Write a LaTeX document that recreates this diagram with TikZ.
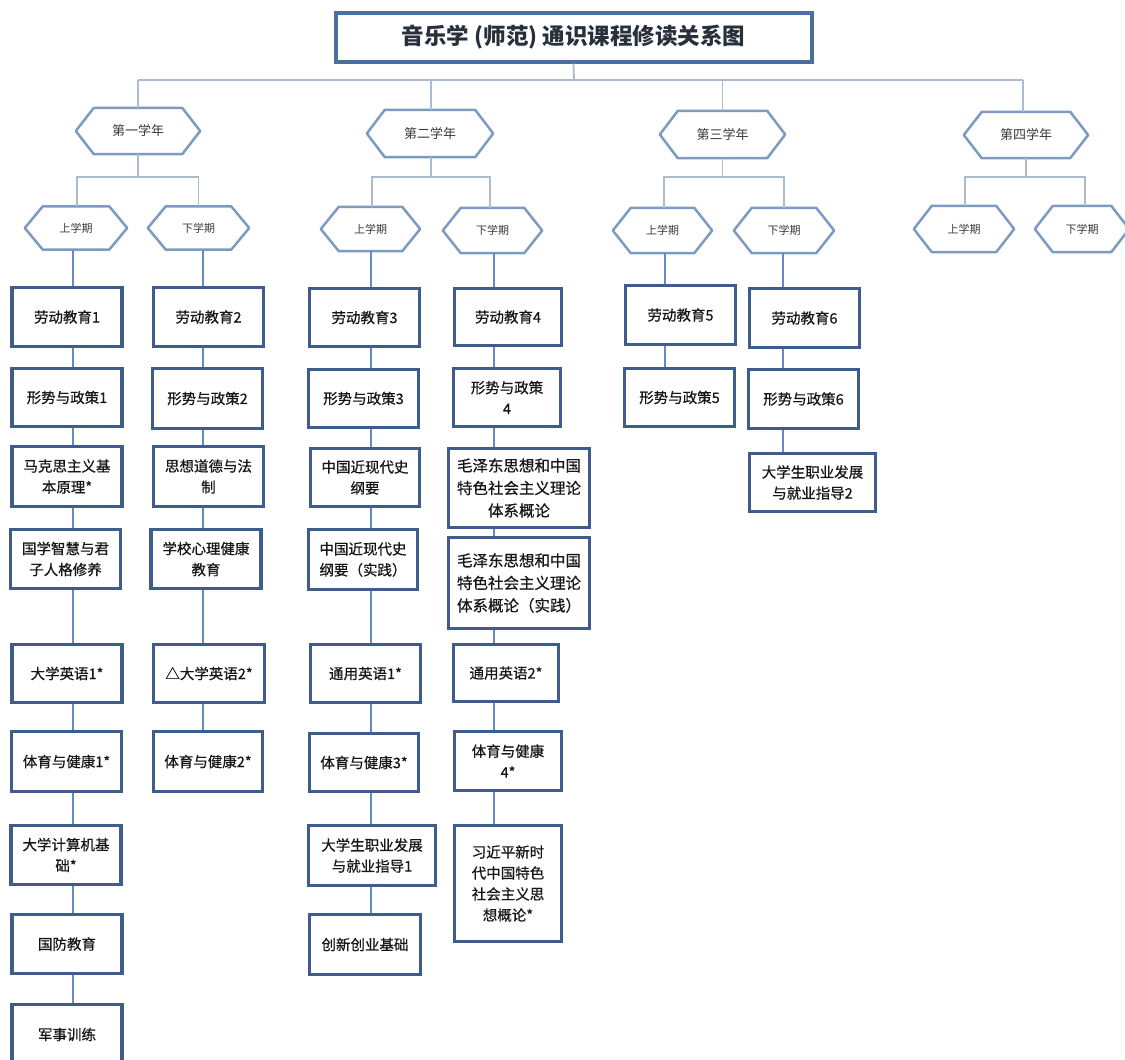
\documentclass[tikz,border=0pt]{standalone}
\usepackage{fontspec}
\setmainfont{Noto Sans CJK SC}
\newfontfamily\coursefont{Noto Sans CJK SC}[FakeBold=0.6]
\usetikzlibrary{calc}
\definecolor{boxblue}{RGB}{62,92,140}
\definecolor{hexblue}{RGB}{125,155,192}
\definecolor{linkblue}{RGB}{100,138,195}
\definecolor{treegray}{RGB}{172,187,206}
\definecolor{titleblue}{RGB}{75,112,160}
\definecolor{titletxt}{RGB}{40,48,60}
\definecolor{txt}{RGB}{22,22,22}
\tikzset{
  hexlabel/.style={inner sep=0pt, text=txt!85},
  hexline/.style={draw=hexblue, line width=2.5pt, line join=round},
  course/.style={draw=boxblue, line width=3.5pt, fill=white, align=center, inner sep=2pt, text=txt, font=\coursefont\fontsize{14.5}{21}\selectfont},
  bigcourse/.style={course, font=\coursefont\fontsize{15.5}{22.5}\selectfont},
  link/.style={draw=linkblue, line width=1.3pt},
  tree/.style={draw=treegray, line width=1.8pt},
  titlebox/.style={draw=titleblue, line width=4pt, fill=white, text=titletxt, font=\bfseries\fontsize{22.5}{22.5}\selectfont},
}
\newcommand{\hexnode}[7]{%
  \node[hexlabel, minimum width=#4pt, minimum height=#5pt, font=\fontsize{#6}{#6}\selectfont] (#1) at (#2,#3) {#7};
  \draw[hexline] (#1.west) -- ([xshift=18pt]#1.north west) -- ([xshift=-18pt]#1.north east) -- (#1.east) -- ([xshift=-18pt]#1.south east) -- ([xshift=18pt]#1.south west) -- cycle;
}
\newcommand{\course}[6]{%
  \node[course, minimum width=#4pt, minimum height=#5pt] (#1) at (#2,#3) {#6};
}
\newcommand{\bigcourse}[6]{%
  \node[bigcourse, minimum width=#4pt, minimum height=#5pt] (#1) at (#2,#3) {#6};
}
\begin{document}
\begin{tikzpicture}[x=1pt,y=-1pt]
\path[use as bounding box, fill=white] (0,0) rectangle (1125,1060);
\clip (0,0) rectangle (1125,1060);

% title
\node[titlebox, minimum width=476pt, minimum height=49pt] (title) at (573.5,37) {音乐学 (师范) 通识课程修读关系图};

% years
\hexnode{Y1}{138}{131}{124}{46}{13}{第一学年}
\hexnode{Y2}{430}{133.5}{126}{47}{13}{第二学年}
\hexnode{Y3}{722.5}{134.5}{125}{47}{13}{第三学年}
\hexnode{Y4}{1026}{135}{124}{46}{13}{第四学年}

% semesters
\hexnode{S1a}{76}{228}{102}{43}{11}{上学期}
\hexnode{S1b}{198.5}{228}{101}{43}{11}{下学期}
\hexnode{S2a}{370.5}{229}{99}{44}{11}{上学期}
\hexnode{S2b}{492.5}{230.5}{99}{45}{11}{下学期}
\hexnode{S3a}{662.5}{230.5}{99}{45}{11}{上学期}
\hexnode{S3b}{784}{230.5}{100}{45}{11}{下学期}
\hexnode{S4a}{964}{229}{100}{46}{11}{上学期}
\hexnode{S4b}{1082}{229}{94}{46}{11}{下学期}

% tree connectors
\coordinate (tb) at (574,80);
\draw[tree] (title.south) -- (tb);
\draw[tree] (Y1.north |- tb) -- ([xshift=-3pt]Y4.north |- tb);
\draw[tree] (Y1.north |- tb) -- (Y1.north);
\draw[tree] ([xshift=1pt]Y2.north |- tb) -- ([xshift=1pt]Y2.north);
\draw[tree] (Y3.north |- tb) -- (Y3.north);
\draw[tree] ([xshift=-3pt]Y4.north |- tb) -- ([xshift=-3pt]Y4.north);

\coordinate (bar) at (0,177);
\draw[tree] (Y1.south) -- (Y1.south |- bar);
\draw[tree] ([xshift=1pt]S1a.north) -- ([xshift=1pt]S1a.north |- bar) -- (S1b.north |- bar) -- (S1b.north);
\draw[tree] ([xshift=1pt]Y2.south) -- ([xshift=1pt]Y2.south |- bar);
\draw[tree] ([xshift=1.5pt]S2a.north) -- ([xshift=1.5pt]S2a.north |- bar) -- ([xshift=-2.5pt]S2b.north |- bar) -- ([xshift=-2.5pt]S2b.north);
\draw[tree] (Y3.south) -- (Y3.south |- bar);
\draw[tree] ([xshift=1.5pt]S3a.north) -- ([xshift=1.5pt]S3a.north |- bar) -- (S3b.north |- bar) -- (S3b.north);
\draw[tree] (Y4.south) -- (Y4.south |- bar);
\draw[tree] ([xshift=1pt]S4a.north) -- ([xshift=1pt]S4a.north |- bar) -- ([xshift=3pt]S4b.north |- bar) -- ([xshift=3pt]S4b.north);

% column A
\course{A1}{67}{317}{110}{59}{劳动教育1}
\course{A2}{67}{397.5}{110}{58}{形势与政策1}
\course{A3}{67}{476.5}{110}{60}{马克思主义基\\本原理*}
\course{A4}{65.5}{559}{110}{59}{国学智慧与君\\子人格修养}
\course{A5}{67}{673.5}{110}{58}{大学英语1*}
\course{A6}{66.5}{761.5}{110}{60}{体育与健康1*}
\course{A7}{66}{855}{110}{59}{大学计算机基\\础*}
\course{A8}{67}{944}{110}{59}{国防教育}
\course{A9}{67}{1034.5}{110}{60}{军事训练}

% column B
\course{B1}{208.5}{317}{110}{59}{劳动教育2}
\course{B2}{207.5}{398.5}{110}{60}{形势与政策2}
\course{B3}{208.5}{476.5}{110}{60}{思想道德与法\\制}
\course{B4}{206}{559}{110}{59}{学校心理健康\\教育}
\course{B5}{209}{673.5}{111}{58}{△大学英语2*}
\course{B6}{208}{761.5}{109}{60}{体育与健康2*}

% column C
\course{C1}{364.5}{317.5}{110}{58}{劳动教育3}
\course{C2}{363.5}{398.5}{110}{58}{形势与政策3}
\course{C3}{365}{477.5}{109}{58}{中国近现代史\\纲要}
\course{C4}{363}{559.5}{109}{60}{中国近现代史\\纲要（实践）}
\course{C5}{365.5}{673.5}{110}{58}{通用英语1*}
\course{C6}{364}{762.5}{109}{58}{体育与健康3*}
\course{C7}{372}{855.5}{127}{60}{大学生职业发展\\与就业指导1}
\course{C8}{365}{944.5}{111}{60}{创新创业基础}

% column D
\course{D1}{508}{317}{107}{57}{劳动教育4}
\course{D2}{507}{397.5}{107}{58}{形势与政策\\4}
\bigcourse{D3}{519}{488}{141}{79}{毛泽东思想和中国\\特色社会主义理论\\体系概论}
\bigcourse{D4}{519}{583}{141}{91}{毛泽东思想和中国\\特色社会主义理论\\体系概论（实践）}
\course{D5}{506}{673}{105}{57}{通用英语2*}
\course{D6}{508}{761}{107}{59}{体育与健康\\4*}
\course{D7}{508}{883.5}{107}{116}{习近平新时\\代中国特色\\社会主义思\\想概论*}

% column E
\course{E1}{680.5}{315}{110}{59}{劳动教育5}
\course{E2}{679.5}{397.5}{110}{58}{形势与政策5}

% column F
\course{F1}{804.5}{318}{110}{59}{劳动教育6}
\course{F2}{803.5}{399}{110}{59}{形势与政策6}
\course{F3}{812.5}{482.5}{126}{58}{大学生职业发展\\与就业指导2}

% column connectors
\coordinate (xA) at (73,0);
\coordinate (xB) at (203,0);
\coordinate (xC) at (371,0);
\coordinate (xD) at (494,0);
\coordinate (xE) at (665,0);
\coordinate (xF) at (783,0);

\draw[link] (S1a.south -| xA) -- (A1.north -| xA);
\foreach \a/\b in {A1/A2,A2/A3,A3/A4,A4/A5,A5/A6,A6/A7,A7/A8,A8/A9}
  \draw[link] (\a.south -| xA) -- (\b.north -| xA);
\draw[link] (S1b.south -| xB) -- (B1.north -| xB);
\foreach \a/\b in {B1/B2,B2/B3,B3/B4,B4/B5,B5/B6}
  \draw[link] (\a.south -| xB) -- (\b.north -| xB);
\draw[link] (S2a.south -| xC) -- (C1.north -| xC);
\foreach \a/\b in {C1/C2,C2/C3,C3/C4,C4/C5,C5/C6,C6/C7,C7/C8}
  \draw[link] (\a.south -| xC) -- (\b.north -| xC);
\draw[link] (S2b.south -| xD) -- (D1.north -| xD);
\foreach \a/\b in {D1/D2,D2/D3,D3/D4,D4/D5,D5/D6,D6/D7}
  \draw[link] (\a.south -| xD) -- (\b.north -| xD);
\draw[link] (S3a.south -| xE) -- (E1.north -| xE);
\draw[link] (E1.south -| xE) -- (E2.north -| xE);
\draw[link] (S3b.south -| xF) -- (F1.north -| xF);
\foreach \a/\b in {F1/F2,F2/F3}
  \draw[link] (\a.south -| xF) -- (\b.north -| xF);
\end{tikzpicture}
\end{document}
